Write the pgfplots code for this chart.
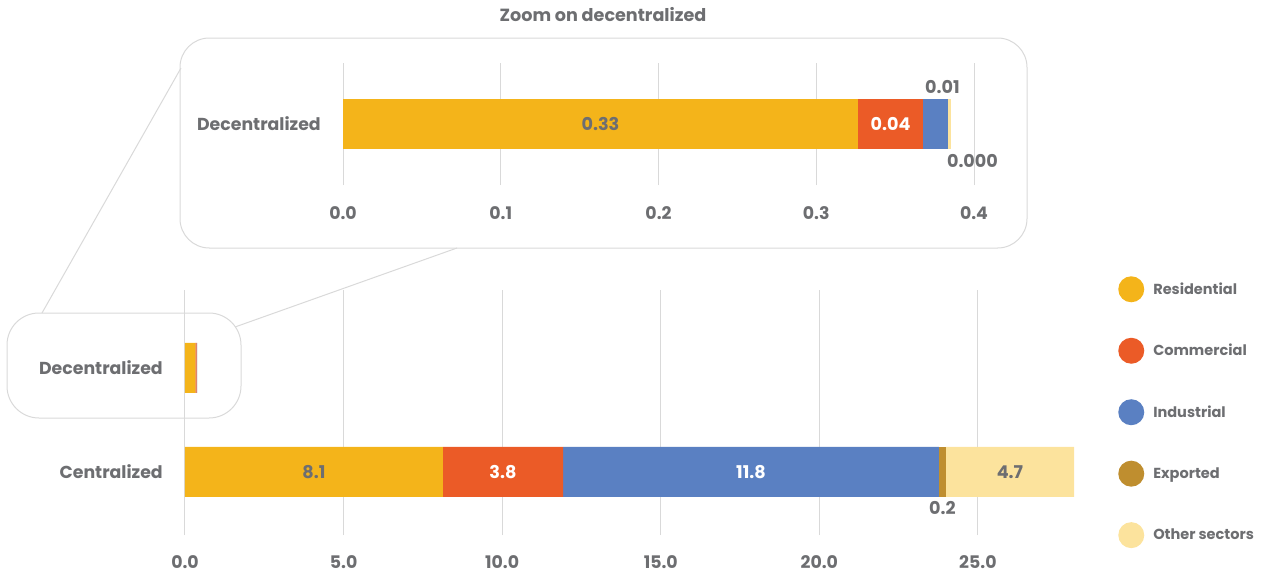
\documentclass[border=0pt]{standalone}
\usepackage{fontspec}
\setmainfont{Poppins}
\usepackage{pgfplots}
\pgfplotsset{compat=1.18}
\definecolor{cRes}{HTML}{F4B41A}
\definecolor{cCom}{HTML}{EB5B27}
\definecolor{cInd}{HTML}{5A80C2}
\definecolor{cExp}{HTML}{BF8E2F}
\definecolor{cOth}{HTML}{FCE39D}
\definecolor{tgray}{HTML}{6D6E71}
\definecolor{lgray}{HTML}{D9D9D9}
\pgfplotsset{
  mystyle/.style={
    scale only axis, xbar stacked,
    axis line style={draw=none}, major tick length=0pt,
    xmajorgrids, ymajorgrids=false, grid style={lgray, line width=0.75pt},
    tick label style={font=\bfseries\fontsize{13}{15}\selectfont, text=tgray},
    /pgf/number format/assume math mode=true,
    /pgf/number format/fixed, /pgf/number format/fixed zerofill, /pgf/number format/precision=1,
    xticklabel style={anchor=center, inner sep=0pt},
    yticklabel style={anchor=east, inner sep=0pt, xshift=-16.5pt},
    bar width=37.5pt,
    nodes near coords, point meta=explicit symbolic,
    every node near coord/.append style={font=\bfseries\fontsize{13.2}{15}\selectfont, text=tgray, anchor=center, inner sep=0pt},
  }
}
\begin{document}
\begin{tikzpicture}
\path[use as bounding box] (0,0) rectangle (945.75pt,-431.25pt);
% boxes and connectors
\draw[lgray, line width=0.75pt, rounded corners=22pt] (180*0.75pt,-38*0.75pt) rectangle (1027*0.75pt,-248*0.75pt);
\draw[lgray, line width=0.75pt, rounded corners=24pt] (7*0.75pt,-313*0.75pt) rectangle (241*0.75pt,-418*0.75pt);
\draw[lgray, line width=0.75pt] (42*0.75pt,-313*0.75pt) -- (181*0.75pt,-68*0.75pt);
\draw[lgray, line width=0.75pt] (235*0.75pt,-327*0.75pt) -- (457*0.75pt,-248*0.75pt);
\node[font=\bfseries\fontsize{13.2}{15}\selectfont, text=tgray] at (603*0.75pt,-15*0.75pt) {Zoom on decentralized};

% main axis
\begin{axis}[mystyle,
  at={(138.75pt,-401.25pt)}, anchor=south west,
  width=666.75pt, height=183.75pt,
  xmin=0, xmax=28.03, ymin=-0.606, ymax=1.75,
  xtick={0,5,10,15,20,25},
  xticklabel style={yshift=-20.25pt},
  ytick={0,1}, yticklabels={Centralized,Decentralized},
  legend style={at={(1.0495,1.0571)}, anchor=north west, draw=none, fill=none, inner sep=0pt,
    column sep=6.75pt, row sep=26.6pt,
    font=\bfseries\fontsize{10.9}{12}\selectfont, text=tgray,
    nodes={inner sep=0pt}},
  legend cell align=left,
  legend image code/.code={\fill[#1,draw=none] (0pt,0pt) circle (9.75pt);},
]
\addplot[fill=cRes, draw=none] coordinates {(8.13,0) [8.1] (0.327,1) [{}]};
\addplot[fill=cCom, draw=none, every node near coord/.append style={text=white}] coordinates {(3.79,0) [3.8] (0.041,1) [{}]};
\addplot[fill=cInd, draw=none, every node near coord/.append style={text=white}] coordinates {(11.85,0) [11.8] (0.016,1) [{}]};
\addplot[fill=cExp, draw=none, every node near coord/.append style={yshift=-27pt}] coordinates {(0.22,0) [0.2] (0.0,1) [{}]};
\addplot[fill=cOth, draw=none] coordinates {(4.04,0) [4.7] (0.002,1) [{}]};
\legend{Residential,Commercial,Industrial,Exported,Other sectors}
\end{axis}

% zoom axis
\begin{axis}[mystyle,
  at={(257.25pt,-138.75pt)}, anchor=south west,
  width=473.25pt, height=91.5pt,
  xmin=0, xmax=0.4, ymin=-1.22, ymax=1.22,
  xtick={0,0.1,0.2,0.3,0.4},
  xticklabel style={yshift=-21pt},
  ytick={0}, yticklabels={Decentralized},
]
\addplot[fill=cRes, draw=none] coordinates {(0.3265,0) [0.33]};
\addplot[fill=cCom, draw=none, every node near coord/.append style={text=white}] coordinates {(0.0412,0) [0.04]};
\addplot[fill=cInd, draw=none, every node near coord/.append style={yshift=27.75pt, xshift=5.25pt}] coordinates {(0.0158,0) [0.01]};
\addplot[fill=cExp, draw=none] coordinates {(0.0,0) [{}]};
\addplot[fill=cOth, draw=none, every node near coord/.append style={yshift=-27.75pt, xshift=17.25pt}] coordinates {(0.0019,0) [0.000]};
\end{axis}
\end{tikzpicture}
\end{document}
